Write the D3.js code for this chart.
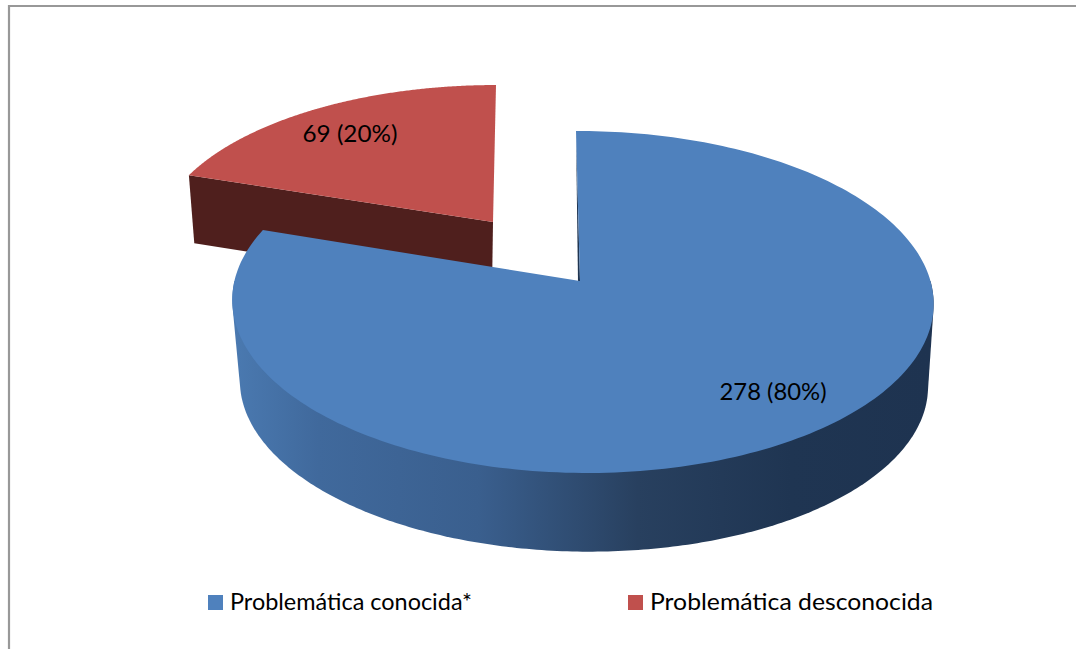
<!DOCTYPE html>
<html><head><meta charset="utf-8">
<script src="https://cdn.jsdelivr.net/npm/d3@7"></script>
<style>html,body{margin:0;background:#fff}svg{display:block}text{font-family:Lato,"Open Sans",sans-serif;fill:#000}</style>
</head><body><div id="c"></div>
<script>
const categories = ["Problemática conocida*", "Problemática desconocida"];
const values = [278, 69];
const valueLabels = ["278 (80%)", "69 (20%)"];
const colors = ["#4F81BD", "#C0504D"];
const W = 1076, H = 649;

const svg = d3.select("#c").append("svg").attr("width", W).attr("height", H);

// perspective projection of the pie's unit circle onto the page
function projector(cx, cy, rx, ry, b, shear, tilt = 0) {
  return (theta, r = 1) => {
    const u = r * Math.sin(theta), t = -r * Math.cos(theta), d = 1 + b * t - tilt * u;
    return [cx + rx * u / d + shear * t, cy + ry * t / d];
  };
}
const B = -0.1228;
const blueTop = projector(580, 281, 348, 168.4, B, 4, 0.007);
const blueBot = projector(581.5, 363, 341.4, 165.5, B, 6, 0.005);
const redTop = projector(493, 222, 334, 153.8, B, -3);
const redBot = projector(492, 290, 327, 153.8, B, -3);

const arcs = d3.pie().sort(null).value(d => d)(values);
const [blue, red] = arcs;
const line = d3.line();
const sample = (p, a0, a1) => d3.range(0, 241).map(i => p(a0 + (a1 - a0) * i / 240));

// frame
svg.append("path").attr("d", line([[9, H], [9, 6], [W, 6]]))
  .attr("fill", "none").attr("stroke", "#989898").attr("stroke-width", 2.2);

// gradient for the blue wall
const defs = svg.append("defs");
const grad = defs.append("linearGradient").attr("id", "wall").attr("gradientUnits", "userSpaceOnUse")
  .attr("x1", 235).attr("x2", 930).attr("y1", 0).attr("y2", 0);
[[0, "#4A79B0"], [0.12, "#40699C"], [0.35, "#3A5F8E"], [0.58, "#28405F"], [0.8, "#1F3552"], [1, "#1E3350"]]
  .forEach(([o, c]) => grad.append("stop").attr("offset", o).attr("stop-color", c));

// red exploded slice: wall then top
svg.append("path")
  .attr("d", line([redTop(red.startAngle), redTop(0, 0), redBot(0, 0), redBot(red.startAngle)]) + "Z")
  .attr("fill", "#4F1F1D");
svg.append("path")
  .attr("d", line([redTop(0, 0), ...sample(redTop, red.startAngle, red.endAngle)]) + "Z")
  .attr("fill", colors[1]);

// blue wall (outer rim)
const h0 = Math.PI / 2, h1 = Math.PI * 1.5;
const hull = d3.polygonHull([...sample(blueTop, h0, h1), ...sample(blueBot, h0, h1)]);
svg.append("path").attr("d", line(hull) + "Z").attr("fill", "url(#wall)");

// inner wall sliver along the start edge
const a = blueTop(0, 0), s = blueTop(0);
svg.append("path").attr("d", line([s, a, [a[0] - 2, a[1] + 1]]) + "Z").attr("fill", "#1F3552");

// blue top face
svg.append("path")
  .attr("d", line([blueTop(0, 0), ...sample(blueTop, blue.startAngle, blue.endAngle)]) + "Z")
  .attr("fill", colors[0]);

// value labels
const labelPos = [[773, 400], [350, 142]];
const labelWidths = [107, 95];
svg.selectAll("text.val").data(valueLabels).join("text").attr("class", "val")
  .attr("x", (d, i) => labelPos[i][0]).attr("y", (d, i) => labelPos[i][1])
  .attr("text-anchor", "middle").attr("font-size", 24)
  .attr("textLength", (d, i) => labelWidths[i]).attr("lengthAdjust", "spacingAndGlyphs").text(d => d);

// legend
const legendX = [208, 628];
const legendWidths = [242, 283];
const g = svg.selectAll("g.leg").data(categories).join("g").attr("class", "leg")
  .attr("transform", (d, i) => `translate(${legendX[i]},595)`);
g.append("rect").attr("width", 15).attr("height", 15).attr("fill", (d, i) => colors[i]);
g.append("text").attr("x", 22).attr("y", 15).attr("font-size", 24)
  .attr("textLength", (d, i) => legendWidths[i]).attr("lengthAdjust", "spacingAndGlyphs").text(d => d);
</script></body></html>
